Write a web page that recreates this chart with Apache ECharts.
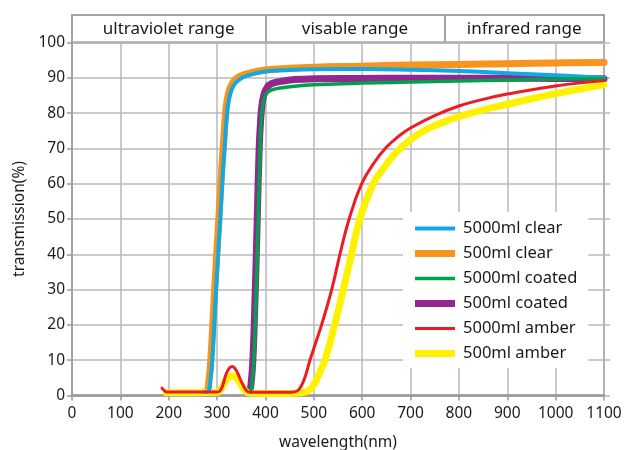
<!DOCTYPE html>
<html>
<head>
<meta charset="utf-8">
<script src="https://cdn.jsdelivr.net/npm/echarts@6/dist/echarts.min.js"></script>
<style>
html,body{margin:0;padding:0;background:#fff;}
#chart{width:624px;height:450px;}
</style>
</head>
<body>
<div id="chart"></div>
<script>
// ---- data (wavelength nm / transmission %) ----
const clear5000Wl = [275,282,286,290,298,307,312,316,320,324,330,338,350,370,400,450,500,600,700,800,900,1000,1100];
const clear5000T  = [1,1.2,4,10,30,51,63,71,79,83.5,86.6,88.5,89.9,90.9,91.8,92.2,92.4,92.5,92.3,91.9,91.3,90.7,90.0];

const clear500Wl = [272,279,283,287,295,304,309,313,317,321,327,335,347,367,400,450,500,600,700,800,900,1000,1100];
const clear500T  = [1,1.2,4,10,30,51,63,71,79,83.8,87.1,89.1,90.4,91.3,92.2,92.7,93.0,93.3,93.6,93.8,94.0,94.2,94.3];

const coated5000Wl = [369,372,376,381,385,389,392,396,402,412,430,460,500,600,700,800,900,1000,1100];
const coated5000T  = [1,3,10,30,50,70,79,83.5,85.5,86.5,87.1,87.6,88.0,88.5,88.8,89.1,89.4,89.6,89.7];

const coated500Wl = [367,370,374,379,383,387,390,393,397,403,412,433,460,500,600,700,800,900,1000,1100];
const coated500T  = [1,3,10,30,50,70,78,82.5,85.3,87.2,88.3,89.0,89.5,89.7,89.8,89.9,89.9,89.9,89.8,89.7];

const amber5000Wl = [186,190,196,250,300,306,312,320,331,340,350,360,368,400,450,462,470,480,492,504,516,537,554,573,599,625,650,675,700,750,800,850,900,1000,1100];
const amber5000T  = [2.1,1.5,1,1,1,1.3,3,6.5,8.2,7,4,1.5,0.9,0.9,0.9,1.1,1.8,4.5,10,15,20,30,40,50,60,66,70.3,73.4,75.8,79.3,82,83.9,85.4,87.7,89.2];

const amber500Wl = [195,250,300,308,316,324,333,341,349,357,366,400,450,475,490,502,512,523,543,561,578,595,623,645,665,700,740,775,800,850,900,1000,1100];
const amber500T  = [0.8,0.8,0.9,1.8,3.8,5.1,5.5,4.8,3.2,1.6,0.7,0.6,0.6,0.8,1.5,3.5,6.5,10,20,30,40,50,60,64.5,68,72.5,75.8,77.8,79,80.9,82.5,85.5,88.0];

const xTicks = [0,100,200,300,400,500,600,700,800,900,1000,1100];
const yTicks = [0,10,20,30,40,50,60,70,80,90,100];
const rangeNames = ['ultraviolet range','visable range','infrared range'];
const rangeEdges = [0,400,770,1100];

const seriesNames = ['5000ml clear','500ml clear','5000ml coated','500ml coated','5000ml amber','500ml amber'];

// ---- build ----
function pairs(xs, ys){ return xs.map((x,i)=>[x,ys[i]]); }
const FONT = 'Noto Sans';
const frameColor = '#a3a3a3';
const gridColor = '#b8b8b8';

const chart = echarts.init(document.getElementById('chart'), null, {renderer:'canvas'});

function lineSeries(name, data, color, width, z){
  return {
    name, type:'line', data, xAxisIndex:0, yAxisIndex:0,
    smooth:0.45, symbol:'none', showSymbol:false,
    lineStyle:{color, width, cap:'round', join:'round'}, itemStyle:{color},
    z, animation:false
  };
}

const colors = ['#12a9e3','#f7941d','#00a14b','#92278f','#ed1c24','#fff200'];
const widths = [4,7,3.5,7,3,7];

const option = {
  animation:false,
  backgroundColor:'#fff',
  textStyle:{fontFamily:FONT, color:'#1a1a1a'},
  grid:[
    {left:72, right:20, top:42.5, bottom:54.5, show:true, borderColor:frameColor, borderWidth:2, containLabel:false, outerBoundsMode:'none'},
    {left:72, right:20, top:15, height:27.5, show:true, borderColor:frameColor, borderWidth:2, outerBoundsMode:'none'}
  ],
  xAxis:[
    {type:'value', gridIndex:0, min:0, max:1100, interval:100,
     axisLine:{show:true, lineStyle:{color:'#9a9a9a', width:2.5}},
     axisTick:{show:true, length:5, lineStyle:{color:'#9a9a9a', width:1.5}},
     axisLabel:{fontSize:15.5, color:'#1a1a1a', margin:10, fontFamily:FONT,
       formatter:v=> xTicks.includes(v) ? String(v) : ''},
     splitLine:{show:true, lineStyle:{color:gridColor, width:1.5}},
     name:'wavelength(nm)', nameLocation:'middle', nameGap:39,
     nameTextStyle:{fontSize:15.5, color:'#1a1a1a', fontFamily:FONT}},
    {type:'value', gridIndex:1, min:0, max:1100, show:false}
  ],
  yAxis:[
    {type:'value', gridIndex:0, min:0, max:100, interval:10,
     axisLine:{show:true, lineStyle:{color:frameColor, width:2}},
     axisTick:{show:true, length:5, lineStyle:{color:'#9a9a9a', width:1.5}},
     axisLabel:{fontSize:15.5, color:'#1a1a1a', margin:7, fontFamily:FONT,
       formatter:v=> yTicks.includes(v) ? String(v) : ''},
     splitLine:{show:true, lineStyle:{color:gridColor, width:1.5}},
     name:'transmission(%)', nameLocation:'middle', nameGap:41,
     nameTextStyle:{fontSize:15.5, color:'#1a1a1a', fontFamily:FONT}},
    {type:'value', gridIndex:0, position:'right', min:0, max:100, interval:10,
     axisLine:{show:false}, axisLabel:{show:false}, splitLine:{show:false},
     axisTick:{show:true, length:6, lineStyle:{color:gridColor, width:1.5}}},
    {type:'value', gridIndex:1, min:0, max:1, show:false}
  ],
  legend:{
    orient:'vertical', left:403, top:212,
    backgroundColor:'#fff', padding:[8,11,6,12],
    itemWidth:40, itemHeight:14, itemGap:8,
    textStyle:{fontSize:16.5, color:'#1a1a1a', fontFamily:FONT, padding:[0,0,0,3]},
    data: seriesNames.map((n,i)=>({name:n, icon:'path://M0,0H40V'+widths[i]+'H0Z'}))
  },
  series:[
    lineSeries(seriesNames[1], pairs(clear500Wl, clear500T), colors[1], widths[1], 3),
    lineSeries(seriesNames[0], pairs(clear5000Wl, clear5000T), colors[0], widths[0], 4),
    lineSeries(seriesNames[3], pairs(coated500Wl, coated500T), colors[3], widths[3], 3),
    lineSeries(seriesNames[2], pairs(coated5000Wl, coated5000T), colors[2], widths[2], 4),
    lineSeries(seriesNames[5], pairs(amber500Wl, amber500T), colors[5], widths[5], 3),
    lineSeries(seriesNames[4], pairs(amber5000Wl, amber5000T), colors[4], widths[4], 4),
    {
      type:'line', xAxisIndex:1, yAxisIndex:2, data:[[0,0.5]], symbol:'none',
      lineStyle:{opacity:0}, silent:true, animation:false, legendHoverLink:false,
      markArea:{
        silent:true,
        itemStyle:{color:'rgba(0,0,0,0)'},
        label:{show:true, position:'inside', fontSize:17, color:'#1a1a1a', fontFamily:FONT},
        data: rangeNames.map((n,i)=>[{name:n, xAxis:rangeEdges[i]},{xAxis:rangeEdges[i+1]}])
      },
      markLine:{
        silent:true, symbol:'none', label:{show:false},
        lineStyle:{color:frameColor, width:2, type:'solid'},
        data: rangeEdges.slice(1,3).map(e=>({xAxis:e}))
      }
    }
  ]
};
chart.setOption(option);
</script>
</body>
</html>
